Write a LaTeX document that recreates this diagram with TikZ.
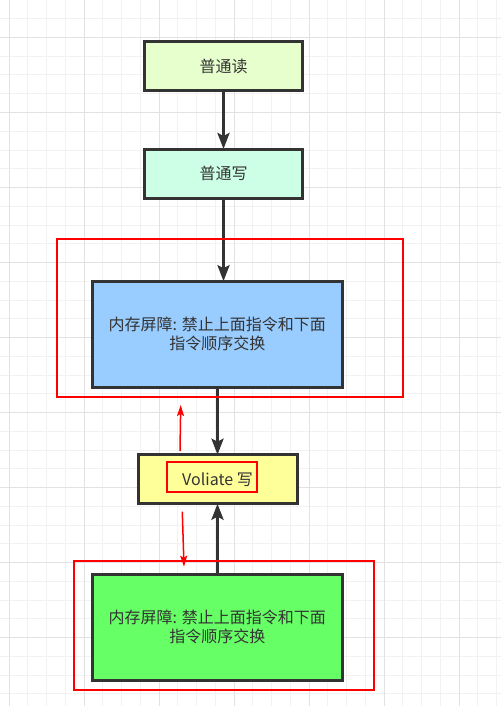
\documentclass[tikz,border=0pt]{standalone}
\usepackage{fontspec}
\setmainfont{Noto Sans CJK SC}
\usepackage{xcolor}
\usepackage{tikz}
\usetikzlibrary{arrows.meta,positioning,calc}
\definecolor{gridminor}{RGB}{242,242,242}
\definecolor{gridmajor}{RGB}{226,226,226}
\definecolor{boxline}{RGB}{51,51,51}
\definecolor{readfill}{RGB}{230,255,204}
\definecolor{writefill}{RGB}{204,255,230}
\definecolor{fenceblue}{RGB}{153,204,255}
\definecolor{volfill}{RGB}{255,255,153}
\definecolor{fencegreen}{RGB}{102,255,102}
\definecolor{marker}{RGB}{255,0,0}

\begin{document}
\begin{tikzpicture}[x=1pt,y=-1pt,
  op/.style={draw=boxline,line width=3pt,outer sep=0pt,inner sep=0pt,
    minimum width=158pt,minimum height=49pt,text=boxline,align=center,
    font=\fontsize{16}{19.3}\selectfont},
  fence/.style={op,minimum width=250pt,minimum height=106pt},
  flow/.style={draw=boxline,line width=3pt,
    -{Stealth[length=16pt,width=12pt,inset=3pt]}},
  hilite/.style={draw=marker,line width=2pt},
  hint/.style={draw=marker,line width=1.5pt,
    -{Stealth[length=11pt,width=7pt,inset=2pt]}}]
  \useasboundingbox (0,0) rectangle (501,706);

  % Background grid of the editor canvas.
  \foreach \i in {0,...,26}
    \draw[gridminor,line width=1pt] ({9+18.75*\i},0) -- ({9+18.75*\i},706);
  \foreach \i in {0,...,37}
    \draw[gridminor,line width=1pt] (0,{18.75*\i}) -- (501,{18.75*\i});
  \foreach \i in {0,...,6}
    \draw[gridmajor,line width=1pt] ({9+75*\i},0) -- ({9+75*\i},706);
  \foreach \i in {0,...,8}
    \draw[gridmajor,line width=1pt] (0,{37.5+75*\i}) -- (501,{37.5+75*\i});

  % Instruction sequence.
  \node[op,fill=readfill] (read) at (223.5,66) {普通读};
  \node[op,fill=writefill] (write) at (223.5,173.5) {普通写};
  \node[fence,fill=fenceblue] (fenceA) at (217.3,334.2)
    {内存屏障: 禁止上面指令和下面\\指令顺序交换};
  \node[op,fill=volfill,minimum width=159pt] (vol) at (217.5,479.2) {Voliate 写};
  \node[fence,fill=fencegreen] (fenceB) at (217.3,627.2)
    {内存屏障: 禁止上面指令和下面\\指令顺序交换};

  \draw[flow] (read) -- (write);
  \draw[flow] (write) -- (write |- fenceA.north);
  \draw[flow] (fenceA.south -| vol) -- (vol);
  \draw[flow] (fenceB.north -| vol) -- (vol);

  % Red highlights.
  \draw[hilite] (56.7,239) rectangle (403,397.3);
  \draw[hilite] (73.7,561) rectangle (374,689.7);
  \draw[hilite] (166.7,461.7) rectangle (256.7,492.3);

  \coordinate (upS) at (180,451);
  \coordinate (upE) at (180.7,405);
  \coordinate (dnS) at (182.3,511.7);
  \coordinate (dnE) at (184,566.7);
  \draw[hint] (upS) -- (upE);
  \draw[hint] (dnS) -- (dnE);
\end{tikzpicture}
\end{document}
